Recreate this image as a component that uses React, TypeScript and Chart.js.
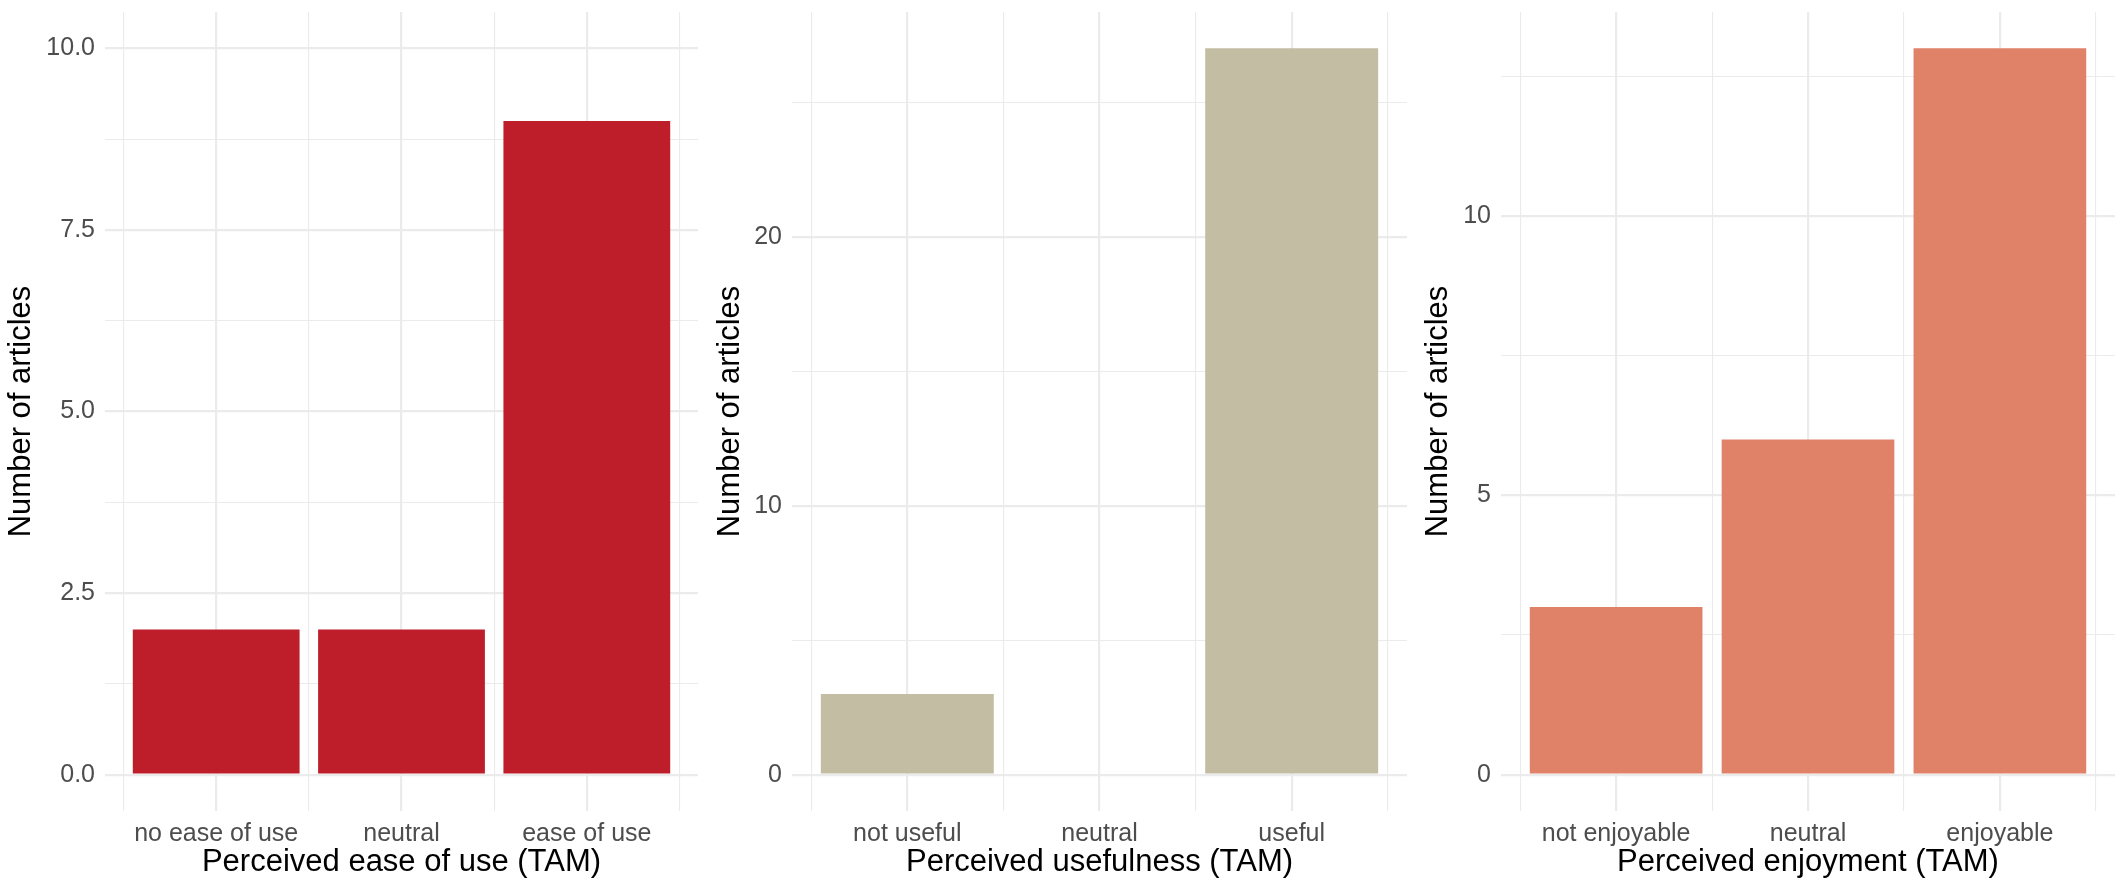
import { useEffect, useRef } from 'react';
import { Chart, registerables } from 'chart.js';

Chart.register(...registerables);

// Perceived ease of use
const easeLabels = ['no ease of use', 'neutral', 'ease of use'];
const easeCounts = [2, 2, 9];
const easeTicks = [0, 2.5, 5, 7.5, 10];
const easeMinorTicks = [1.25, 3.75, 6.25, 8.75];

// Perceived usefulness
const usefulLabels = ['not useful', 'neutral', 'useful'];
const usefulCounts = [3, 0, 27];
const usefulTicks = [0, 10, 20];
const usefulMinorTicks = [5, 15, 25];

// Perceived enjoyment
const enjoyLabels = ['not enjoyable', 'neutral', 'enjoyable'];
const enjoyCounts = [3, 6, 13];
const enjoyTicks = [0, 5, 10];
const enjoyMinorTicks = [2.5, 7.5, 12.5];

const FONT = "'Liberation Sans', Arial, Helvetica, sans-serif";
const GRID = '#EBEBEB';
const TICK_COLOR = '#4D4D4D';

interface BarPanelProps {
  labels: string[];
  counts: number[];
  ticks: number[];
  minorTicks: number[];
  yMin: number;
  yMax: number;
  decimals: number;
  color: string;
  xTitle: string;
  width: number;
  left: number;
  right: number;
}

function BarPanel({
  labels, counts, ticks, minorTicks, yMin, yMax, decimals, color, xTitle, width, left, right,
}: BarPanelProps) {
  const chartRef = useRef<HTMLCanvasElement>(null);

  useEffect(() => {
    if (!chartRef.current) return;

    const majorX = labels.map((_, i) => i);
    const minorX = [-0.5, ...labels.map((_, i) => i + 0.5)];

    const chart = new Chart(chartRef.current, {
      type: 'bar',
      data: {
        datasets: [{
          data: counts.map((v, i) => ({ x: i, y: v })),
          backgroundColor: color,
          borderWidth: 0,
          // bar ruler is the 0.5 tick spacing, so 1.8 gives 0.9 of a category
          categoryPercentage: 1,
          barPercentage: 1.8,
        }],
      },
      options: {
        animation: false,
        responsive: true,
        maintainAspectRatio: false,
        layout: { padding: { top: 12, right, left: 0, bottom: 0 } },
        plugins: {
          legend: { display: false },
          tooltip: { enabled: false },
        },
        scales: {
          x: {
            type: 'linear',
            offset: false,
            min: -0.6,
            max: labels.length - 0.4,
            border: { display: false },
            grid: {
              offset: false,
              color: GRID,
              lineWidth: (ctx: any) => (Number.isInteger(ctx.tick?.value) ? 2.2 : 1.1),
              drawTicks: false,
            },
            ticks: {
              autoSkip: false,
              maxRotation: 0,
              padding: 8,
              color: TICK_COLOR,
              font: { family: FONT, size: 25 },
              callback: (v: any) => (Number.isInteger(v) ? labels[v] : ''),
            },
            afterBuildTicks: (axis: any) => {
              axis.ticks = [...minorX, ...majorX].sort((a, b) => a - b).map((value) => ({ value }));
            },
            afterFit: (axis: any) => {
              axis.height = 80;
              axis.paddingLeft = 0;
              axis.paddingRight = 0;
            },
            title: {
              display: true,
              text: xTitle,
              color: '#000000',
              font: { family: FONT, size: 31 },
              padding: { top: 0, bottom: 10 },
            },
          },
          y: {
            min: yMin,
            max: yMax,
            border: { display: false },
            grid: {
              color: GRID,
              lineWidth: (ctx: any) => (ticks.includes(ctx.tick?.value) ? 2.2 : 1.1),
              drawTicks: false,
            },
            ticks: {
              padding: 10,
              color: TICK_COLOR,
              font: { family: FONT, size: 25 },
              callback: (v: any) => (ticks.includes(v) ? Number(v).toFixed(decimals) : ''),
            },
            afterBuildTicks: (axis: any) => {
              axis.ticks = [...ticks, ...minorTicks].sort((a, b) => a - b).map((value) => ({ value }));
            },
            afterFit: (axis: any) => {
              axis.width = left;
              axis.paddingTop = 0;
              axis.paddingBottom = 0;
            },
            title: {
              display: true,
              text: 'Number of articles',
              color: '#000000',
              font: { family: FONT, size: 31 },
              padding: { top: 3, bottom: 0 },
            },
          },
        },
      },
    });

    return () => {
      chart.destroy();
    };
  }, [labels, counts, ticks, minorTicks, yMin, yMax, decimals, color, xTitle, left, right]);

  return (
    <div style={{ position: 'relative', width, height: 891 }}>
      <canvas ref={chartRef} />
    </div>
  );
}

export default function App() {
  return (
    <div
      style={{
        position: 'fixed',
        left: 0,
        top: 0,
        width: 2126,
        height: 891,
        display: 'flex',
        background: '#ffffff',
      }}
    >
      <BarPanel
        labels={easeLabels}
        counts={easeCounts}
        ticks={easeTicks}
        minorTicks={easeMinorTicks}
        yMin={-0.5}
        yMax={10.5}
        decimals={1}
        color="#BE1E2A"
        xTitle="Perceived ease of use (TAM)"
        width={709}
        left={105}
        right={11}
      />
      <BarPanel
        labels={usefulLabels}
        counts={usefulCounts}
        ticks={usefulTicks}
        minorTicks={usefulMinorTicks}
        yMin={-1.35}
        yMax={28.35}
        decimals={0}
        color="#C2BDA3"
        xTitle="Perceived usefulness (TAM)"
        width={708}
        left={83}
        right={10}
      />
      <BarPanel
        labels={enjoyLabels}
        counts={enjoyCounts}
        ticks={enjoyTicks}
        minorTicks={enjoyMinorTicks}
        yMin={-0.65}
        yMax={13.65}
        decimals={0}
        color="#E08268"
        xTitle="Perceived enjoyment (TAM)"
        width={709}
        left={84}
        right={11}
      />
    </div>
  );
}
